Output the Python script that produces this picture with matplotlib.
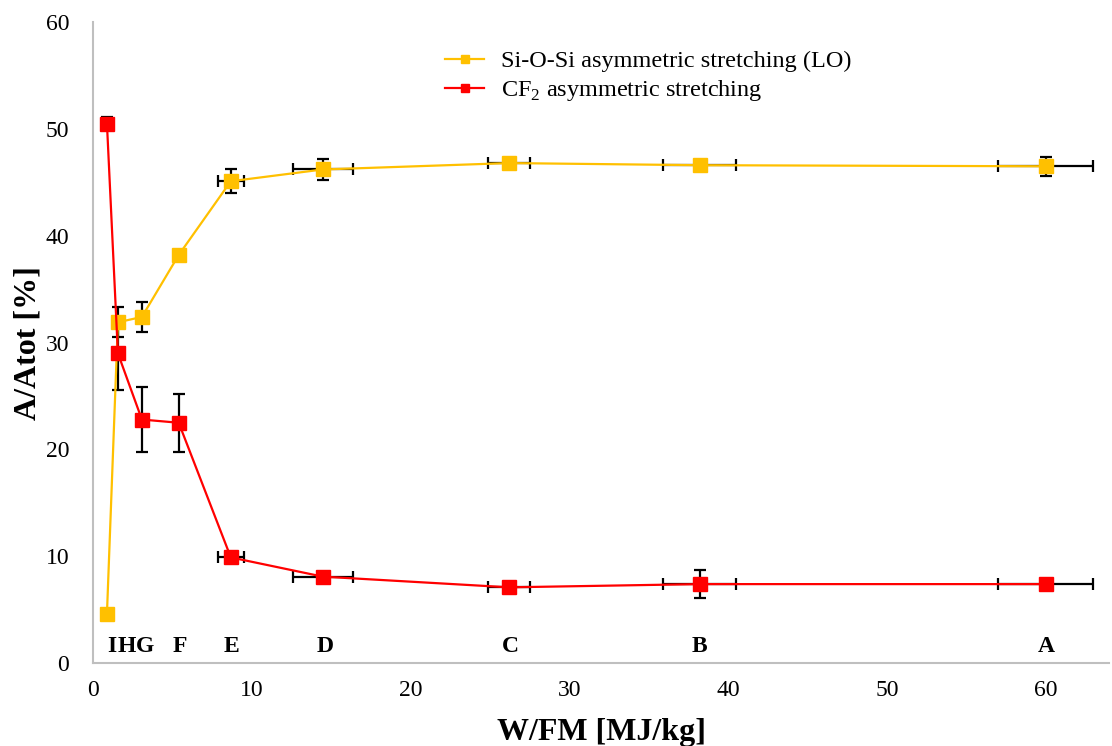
import matplotlib.pyplot as plt

plt.rcParams['font.family'] = ['Liberation Serif', 'DejaVu Serif']
plt.rcParams['mathtext.fontset'] = 'custom'
plt.rcParams['mathtext.rm'] = 'Liberation Serif'

# W/FM values of the samples (MJ/kg) and their uncertainties
samples = ['I', 'H', 'G', 'F', 'E', 'D', 'C', 'B', 'A']
wfm = [0.88, 1.57, 3.08, 5.4, 8.68, 14.47, 26.2, 38.2, 60.0]
wfm_err = [0.0, 0.0, 0.0, 0.0, 0.8, 1.9, 1.3, 2.3, 3.0]

# Relative band areas A/Atot (%)
sio_lo = [4.6, 31.9, 32.4, 38.2, 45.1, 46.2, 46.8, 46.6, 46.5]
sio_lo_err = [0.0, 1.4, 1.4, 0.4, 1.1, 1.0, 0.3, 0.2, 0.9]
cf2 = [50.5, 29.0, 22.8, 22.5, 9.9, 8.1, 7.1, 7.4, 7.4]
cf2_err = [0.6, 3.4, 3.0, 2.7, 0.4, 0.3, 0.2, 1.3, 0.2]

# sample letters drawn along the bottom of the plot
label_x = [1.2, 2.15, 3.25, 5.45, 8.7, 14.6, 26.3, 38.2, 60.0]

fig = plt.figure(figsize=(11.12, 7.46), dpi=100)
ax = fig.add_axes([0.0836, 0.111, 0.914, 0.8595])

ax.errorbar(wfm, sio_lo, yerr=sio_lo_err, xerr=wfm_err, fmt='none',
            ecolor='black', elinewidth=1.6, capsize=4, capthick=1.6, zorder=2)
ax.errorbar(wfm, cf2, yerr=cf2_err, xerr=wfm_err, fmt='none',
            ecolor='black', elinewidth=1.6, capsize=4, capthick=1.6, zorder=2)

ax.plot(wfm, sio_lo, color='#FFC000', lw=1.6, marker='s', ms=10,
        label='Si-O-Si asymmetric stretching (LO)', zorder=3)
ax.plot(wfm, cf2, color='#FF0000', lw=1.6, marker='s', ms=10,
        label='CF$_\\mathrm{2}$ asymmetric stretching', zorder=3)

for name, x in zip(samples, label_x):
    ax.text(x, 0.6, name, ha='center', va='bottom', fontsize=17,
            fontweight='bold')

ax.set_xlim(0, 64)
ax.set_ylim(0, 60)
ax.set_xticks(range(0, 61, 10))
ax.set_yticks(range(0, 61, 10))
ax.tick_params(length=0, labelsize=17, pad=12)
ax.tick_params(axis='y', pad=17)

for side in ['top', 'right']:
    ax.spines[side].set_visible(False)
for side in ['left', 'bottom']:
    ax.spines[side].set_color('#BFBFBF')
    ax.spines[side].set_linewidth(1.5)

ax.set_xlabel('W/FM [MJ/kg]', fontsize=23, fontweight='bold', labelpad=12)
ax.set_ylabel('A/Atot [%]', fontsize=23, fontweight='bold', labelpad=2)

ax.legend(loc='upper left', bbox_to_anchor=(0.325, 0.99), frameon=False,
          fontsize=17.5, markerscale=0.55, handlelength=1.6,
          handletextpad=0.7, labelspacing=0.25)

plt.savefig('out.png', dpi=100)
